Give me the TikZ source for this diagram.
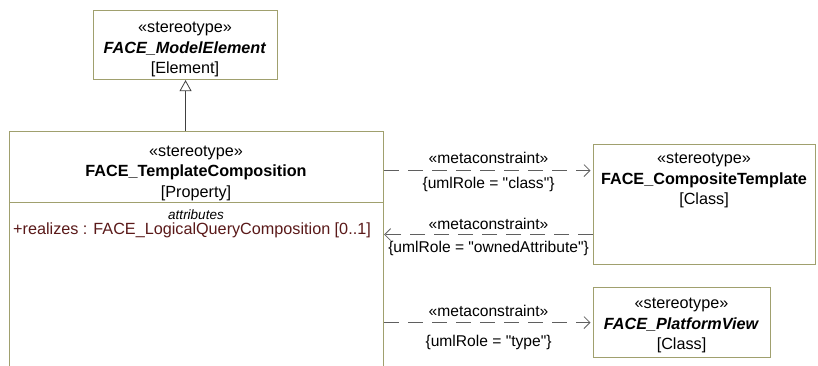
\documentclass[tikz,border=0pt]{standalone}
\usepackage{fontspec}
\setmainfont{Liberation Sans}
\usetikzlibrary{arrows.meta,positioning}
\definecolor{clsline}{RGB}{160,160,110}
\definecolor{attrtext}{RGB}{90,25,25}
\definecolor{metaline}{RGB}{95,95,95}

\begin{document}
\begin{tikzpicture}[
  x=1pt, y=-1pt,
  font=\fontsize{16.2}{20}\selectfont,
  cls/.style={draw=clsline, line width=1.1pt, fill=white, inner sep=0pt, anchor=north west},
  ctext/.style={align=center, inner sep=0pt, font=\fontsize{16.2}{20.5}\selectfont},
  meta/.style={-{Straight Barb[length=6pt, width=12pt]}, draw=metaline, line width=0.8pt,
               dash pattern=on 15pt off 9pt},
  gen/.style={-{Triangle[open, length=11pt, width=12pt, fill=white]}, draw=black!75, line width=0.8pt},
  lab/.style={font=\fontsize{15.6}{17}\selectfont, inner sep=5pt}
]
\useasboundingbox (0,0) rectangle (818,365);
\clip (0,0) rectangle (818,365);

% ================= metaclasses =================
\node[cls, minimum width=184, minimum height=69] (mod) at (93,10) {};
\node[ctext] (modtxt) at (185,49.5) {«stereotype»\\\textbf{\textit{FACE\_ModelElement}}\\{[Element]}};

\node[cls, minimum width=374, minimum height=71] (tc) at (9,131) {};
\node[ctext] (tctxt) at (196,173) {«stereotype»\\\textbf{FACE\_TemplateComposition}\\{[Property]}};
\node[cls, minimum width=374, minimum height=260] (tcattr) at (9,202) {};
\node[font=\itshape\fontsize{13.5}{15}\selectfont, inner sep=0pt] (attrhd) at (196,215) {attributes};
\node[text=attrtext, anchor=west, inner sep=0pt] (attr1) at (13,230) {+realizes : FACE\_LogicalQueryComposition [0..1]};

\node[cls, minimum width=222, minimum height=120] (ct) at (593,144) {};
\node[ctext] (cttxt) at (704,180.5) {«stereotype»\\\textbf{FACE\_CompositeTemplate}\\{[Class]}};

\node[cls, minimum width=177, minimum height=70] (pv) at (593,287) {};
\node[ctext] (pvtxt) at (681.5,325.5) {«stereotype»\\\textbf{\textit{FACE\_PlatformView}}\\{[Class]}};

% ================= connectors =================
\draw[gen] (mod.south |- tc.north) -- (mod.south);

\draw[meta, shorten >=2.5pt] ([yshift=-3.5pt]tc.east) -- node[lab, above, inner sep=7pt] {«metaconstraint»}
  node[lab, below, inner sep=6.5pt] {\{umlRole = \textquotedbl class\textquotedbl\}} ([yshift=-3.5pt]tc.east -| ct.west);
\draw[meta] ([yshift=-30pt]ct.west) -- node[lab, above, inner sep=5pt] {«metaconstraint»}
  node[lab, below, inner sep=6pt] {\{umlRole = \textquotedbl ownedAttribute\textquotedbl\}} ([yshift=-30pt]ct.west -| tc.east);
\draw[meta, shorten >=2.5pt] (pv.west -| tc.east) -- node[lab, above, inner sep=6pt] {«metaconstraint»}
  node[lab, below, inner sep=12pt] {\{umlRole = \textquotedbl type\textquotedbl\}} (pv.west);

\end{tikzpicture}
\end{document}
